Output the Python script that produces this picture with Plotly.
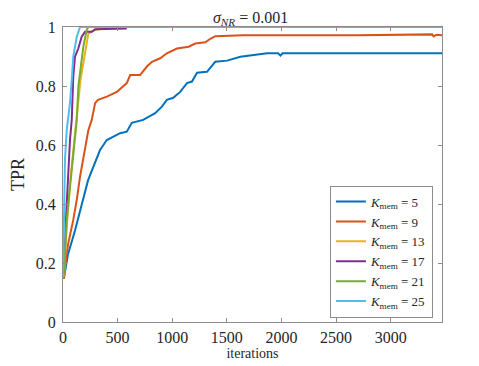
import plotly.graph_objects as go

# ---- data ----
k_labels = ["5", "9", "13", "17", "21", "25"]
colors = ["#0072BD", "#D95319", "#EDB120", "#7E2F8E", "#77AC30", "#4DBEEE"]

iter_k5 = [0, 9, 46, 110, 229, 339, 401, 523, 584, 630, 734, 844, 905, 951, 1009, 1073,
           1135, 1181, 1227, 1318, 1394, 1502, 1624, 1743, 1869, 1970, 1991, 2010, 3470]
tpr_k5 = [0.15, 0.15, 0.23, 0.31, 0.48, 0.583, 0.617, 0.64, 0.645, 0.675, 0.685, 0.708, 0.73,
          0.753, 0.76, 0.78, 0.81, 0.815, 0.845, 0.848, 0.882, 0.886, 0.899, 0.905, 0.911,
          0.911, 0.903, 0.911, 0.911]

iter_k9 = [0, 9, 34, 49, 94, 126, 156, 202, 232, 263, 294, 321, 401, 493, 584, 615, 706,
           768, 814, 890, 951, 1043, 1150, 1211, 1303, 1349, 1394, 1651, 1991, 2050, 2694,
           3380, 3394, 3420, 3470]
tpr_k9 = [0.15, 0.15, 0.234, 0.268, 0.346, 0.414, 0.493, 0.583, 0.65, 0.685, 0.742, 0.753,
          0.764, 0.78, 0.81, 0.837, 0.837, 0.866, 0.882, 0.894, 0.911, 0.927, 0.933, 0.944,
          0.948, 0.96, 0.969, 0.972, 0.972, 0.97, 0.972, 0.975, 0.968, 0.974, 0.972]

iter_k13 = [0, 10, 34, 64, 94, 126, 160, 186, 202, 217, 232, 294, 367]
tpr_k13 = [0.15, 0.16, 0.32, 0.47, 0.58, 0.69, 0.82, 0.877, 0.911, 0.944, 0.978, 0.99, 0.995]

iter_k17 = [0, 10, 34, 49, 64, 80, 94, 110, 140, 171, 202, 263, 294, 584]
tpr_k17 = [0.15, 0.2, 0.40, 0.54, 0.617, 0.685, 0.832, 0.9, 0.927, 0.967, 0.984, 0.984,
           0.992, 0.995]

iter_k21 = [0, 10, 34, 64, 94, 126, 141, 171, 186, 217, 232]
tpr_k21 = [0.15, 0.18, 0.345, 0.46, 0.57, 0.685, 0.8, 0.888, 0.933, 0.99, 1.0]

iter_k25 = [0, 5, 18, 34, 64, 80, 94, 126, 156, 3470]
tpr_k25 = [0.15, 0.3, 0.55, 0.65, 0.742, 0.82, 0.9, 0.967, 1.0, 1.0]

x_ticks = [0, 500, 1000, 1500, 2000, 2500, 3000]
y_ticks = [0, 0.2, 0.4, 0.6, 0.8, 1]
y_tick_text = ["0", "0.2", "0.4", "0.6", "0.8", "1"]

series_x = [iter_k5, iter_k9, iter_k13, iter_k17, iter_k21, iter_k25]
series_y = [tpr_k5, tpr_k9, tpr_k13, tpr_k17, tpr_k21, tpr_k25]

SERIF = "Liberation Serif"
TXT = "#262626"

fig = go.Figure()
for xs, ys, k, c in zip(series_x, series_y, k_labels, colors):
    fig.add_trace(go.Scatter(
        x=xs, y=ys, mode="lines",
        line=dict(color=c, width=2),
        name=f"<i>K</i><sub>mem</sub> = {k}",
    ))

axis_common = dict(
    showline=True, linecolor="#8c8c8c", linewidth=1, mirror="ticks",
    ticks="inside", ticklen=4, tickcolor="#8c8c8c", tickwidth=1,
    showgrid=False, zeroline=False, automargin=False,
    tickfont=dict(family=SERIF, size=16, color=TXT),
)

# page body has an 8px default margin: figure is sized/offset to compensate
fig.update_layout(
    width=471, height=358,
    margin=dict(l=55, r=37, t=19, b=44, autoexpand=False),
    paper_bgcolor="white", plot_bgcolor="white",
    font=dict(family=SERIF, color=TXT),
    title=dict(text="<i>σ</i><sub><i>NR</i></sub> = 0.001", x=0.515, xanchor="center",
               y=0.99, yanchor="top", automargin=False,
               font=dict(family=SERIF, size=16, color=TXT)),
    xaxis=dict(range=[0, 3470], tickvals=x_ticks, ticktext=[str(v) for v in x_ticks],
               title=dict(text="iterations", standoff=0,
                          font=dict(family=SERIF, size=14, color=TXT)),
               ticklabelstandoff=1, **axis_common),
    yaxis=dict(range=[0, 1], tickvals=y_ticks, ticktext=y_tick_text,
               title=dict(text="TPR", standoff=8,
                          font=dict(family=SERIF, size=18, color=TXT)),
               ticklabelstandoff=3, **axis_common),
    legend=dict(x=0.976, xanchor="right", y=0.015, yanchor="bottom",
                bgcolor="white", bordercolor="#8c8c8c", borderwidth=1,
                font=dict(family=SERIF, size=13, color=TXT),
                tracegroupgap=0, itemwidth=30),
    showlegend=True,
)

fig.write_html("out.html")
